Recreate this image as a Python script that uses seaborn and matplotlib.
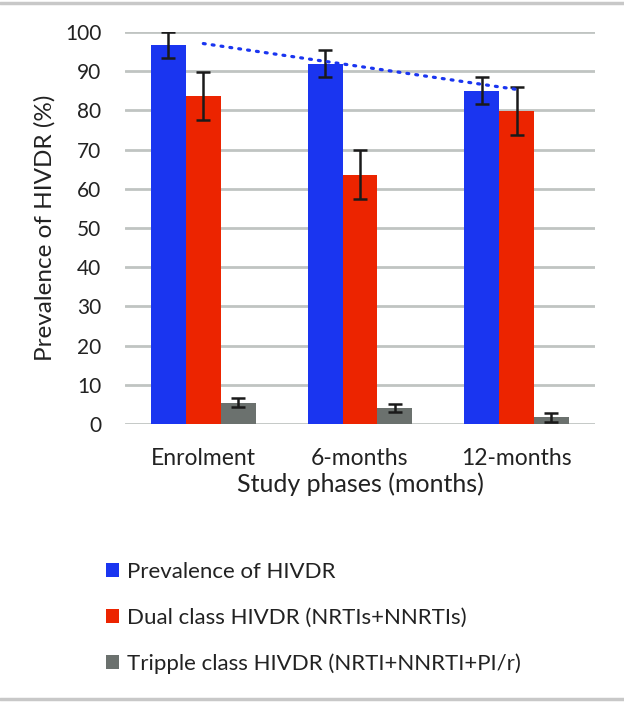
# HIVDR prevalence by study phase - grouped bars with error bars + trendline
import numpy as np
import pandas as pd
import seaborn as sns
import matplotlib.pyplot as plt
from matplotlib.lines import Line2D
from matplotlib.patches import Patch

# data
phases = ["Enrolment", "6-months", "12-months"]
series = [
    "Prevalence of HIVDR",
    "Dual class HIVDR (NRTIs+NNRTIs)",
    "Tripple class HIVDR (NRTI+NNRTI+PI/r)",
]
prevalence = [96.7, 91.9, 85.0]
prevalence_err = [3.3, 3.4, 3.4]
dual_class = [83.7, 63.6, 79.9]
dual_class_err = [6.1, 6.2, 6.1]
triple_class = [5.4, 4.1, 1.7]
triple_class_err = [1.1, 1.1, 1.1]

colors = ["#1a35f0", "#ec2400", "#6b716e"]

# long table for seaborn
df = pd.DataFrame({
    "phase": phases * 3,
    "series": [series[0]] * 3 + [series[1]] * 3 + [series[2]] * 3,
    "value": prevalence + dual_class + triple_class,
    "err": prevalence_err + dual_class_err + triple_class_err,
})

sns.set_style("white")
plt.rcParams["font.family"] = ["Lato", "DejaVu Sans"]
text_color = "#222222"

fig = plt.figure(figsize=(6.24, 7.03), dpi=100)
ax = fig.add_axes([0.2003, 0.3969, 0.7532, 0.5576])

sns.barplot(data=df, x="phase", y="value", hue="series", order=phases,
            hue_order=series, palette=colors, width=0.667, gap=0,
            errorbar=None, saturation=1, linewidth=0, legend=False, ax=ax,
            zorder=3)

# error bars at the bar centres
for patch_list, s in zip(ax.containers, series):
    sub = df[df["series"] == s]
    xs = [p.get_x() + p.get_width() / 2 for p in patch_list]
    ax.errorbar(xs, sub["value"], yerr=sub["err"], fmt="none",
                ecolor="#1a1a1a", elinewidth=1.8, capsize=5, capthick=1.8,
                zorder=4)

# linear trendline for the prevalence series
xi = np.arange(len(phases))
slope, intercept = np.polyfit(xi, prevalence, 1)
ax.plot(xi[[0, -1]], intercept + slope * xi[[0, -1]], color="#1a35f0",
        linewidth=2.3, linestyle=(0, (0.6, 2.2)), dash_capstyle="round",
        zorder=5)

# axes styling
ax.set_ylim(0, 100)
ax.set_xlim(-0.5, 2.5)
ax.set_yticks(range(0, 101, 10))
ax.yaxis.grid(True, color="#c0c4c2", linewidth=2)
ax.set_axisbelow(True)
for side in ["left", "right", "top", "bottom"]:
    ax.spines[side].set_visible(False)
ax.tick_params(axis="both", length=0, colors=text_color)
ax.tick_params(axis="y", pad=17, labelsize=15)
ax.tick_params(axis="x", pad=17, labelsize=16.5)
ax.set_ylabel("Prevalence of HIVDR (%)", fontsize=17.5, color=text_color,
              labelpad=7)
ax.set_xlabel("Study phases (months)", fontsize=18, color=text_color,
              labelpad=3)

# legend below the chart
handles = [Patch(facecolor=c, edgecolor="none") for c in colors]
fig.legend(handles, series, loc="upper left", bbox_to_anchor=(0.155, 0.213),
           frameon=False, fontsize=16, handlelength=0.6, handleheight=0.6,
           handletextpad=0.35, labelspacing=1.15, borderaxespad=0,
           labelcolor=text_color)

# light border lines top and bottom
fig.add_artist(Line2D([0, 1], [0.996, 0.996], color="#c8c8c8", linewidth=2.5,
                      transform=fig.transFigure))
fig.add_artist(Line2D([0, 1], [0.006, 0.006], color="#c8c8c8", linewidth=2.5,
                      transform=fig.transFigure))

fig.savefig("out.png", dpi=100)
